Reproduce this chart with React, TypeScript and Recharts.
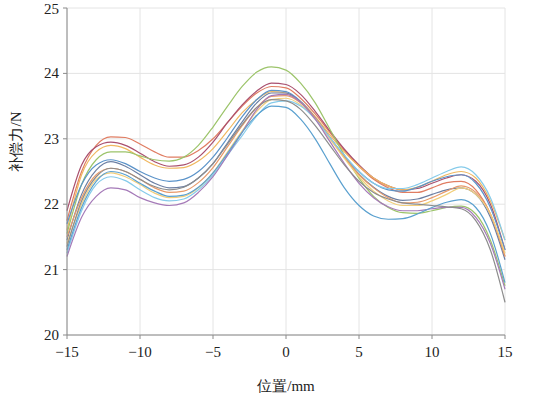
import { LineChart, Line, XAxis, YAxis, CartesianGrid } from "recharts";

const X_POS = [-15, -14, -13, -12, -11, -10, -9, -8, -7, -6, -5, -4, -3, -2, -1, 0, 1, 2, 3, 4, 5, 6, 7, 8, 9, 10, 11, 12, 13, 14, 15];

const X_TICKS = [-15, -10, -5, 0, 5, 10, 15];
const Y_TICKS = [20, 21, 22, 23, 24, 25];

const s1 = [21.75, 22.5, 22.9, 23.03, 23.02, 22.92, 22.8, 22.72, 22.72, 22.82, 23.0, 23.25, 23.5, 23.7, 23.8, 23.78, 23.62, 23.38, 23.1, 22.82, 22.58, 22.38, 22.25, 22.18, 22.18, 22.25, 22.33, 22.35, 22.22, 21.85, 21.2];
const s2 = [21.9, 22.6, 22.88, 22.95, 22.9, 22.78, 22.65, 22.58, 22.6, 22.72, 22.95, 23.25, 23.52, 23.73, 23.85, 23.83, 23.68, 23.42, 23.12, 22.84, 22.6, 22.4, 22.28, 22.22, 22.24, 22.32, 22.4, 22.45, 22.35, 22.0, 21.3];
const s3 = [21.6, 22.45, 22.8, 22.9, 22.85, 22.72, 22.6, 22.55, 22.56, 22.66, 22.85, 23.12, 23.4, 23.6, 23.72, 23.7, 23.57, 23.34, 23.06, 22.8, 22.58, 22.4, 22.28, 22.22, 22.26, 22.35, 22.45, 22.5, 22.4, 22.05, 21.45];
const s4 = [21.55, 22.3, 22.68, 22.8, 22.8, 22.74, 22.68, 22.66, 22.72, 22.9, 23.18, 23.5, 23.8, 24.02, 24.1, 24.05, 23.85, 23.55, 23.15, 22.75, 22.4, 22.12, 21.95, 21.87, 21.86, 21.9, 21.95, 21.97, 21.85, 21.45, 20.75];
const s5 = [21.7, 22.3, 22.6, 22.68, 22.62, 22.5, 22.4, 22.35, 22.38, 22.5, 22.72, 23.02, 23.34, 23.6, 23.74, 23.72, 23.57, 23.32, 23.02, 22.74, 22.5, 22.32, 22.22, 22.2, 22.26, 22.35, 22.42, 22.45, 22.32, 21.95, 21.3];
const s6 = [21.45, 22.15, 22.52, 22.65, 22.58, 22.45, 22.32, 22.25, 22.27, 22.4, 22.62, 22.94, 23.26, 23.55, 23.7, 23.7, 23.56, 23.32, 23.02, 22.72, 22.46, 22.26, 22.12, 22.06, 22.08, 22.15, 22.22, 22.25, 22.15, 21.8, 21.15];
const s7 = [21.5, 22.1, 22.45, 22.55, 22.5, 22.38, 22.25, 22.18, 22.2, 22.33, 22.56, 22.88, 23.2, 23.48, 23.65, 23.66, 23.55, 23.32, 23.02, 22.72, 22.45, 22.25, 22.1, 22.02, 22.03, 22.1, 22.2, 22.28, 22.18, 21.85, 21.2];
const s8 = [21.4, 22.0, 22.38, 22.48, 22.42, 22.3, 22.17, 22.1, 22.12, 22.25, 22.48, 22.8, 23.12, 23.42, 23.6, 23.62, 23.52, 23.3, 23.0, 22.7, 22.42, 22.2, 22.05, 21.98, 21.98, 22.05, 22.15, 22.25, 22.15, 21.85, 21.25];
const s9 = [21.25, 21.9, 22.3, 22.42, 22.36, 22.22, 22.1, 22.05, 22.08, 22.22, 22.45, 22.75, 23.05, 23.35, 23.55, 23.58, 23.5, 23.3, 23.02, 22.75, 22.5, 22.32, 22.24, 22.24, 22.3, 22.4, 22.5, 22.57, 22.45, 22.1, 21.45];
const s10 = [21.2, 21.8, 22.12, 22.25, 22.22, 22.1, 22.02, 21.98, 22.02, 22.18, 22.42, 22.75, 23.1, 23.45, 23.66, 23.68, 23.56, 23.3, 22.96, 22.62, 22.32, 22.1, 21.96, 21.9, 21.9, 21.93, 21.95, 21.95, 21.8, 21.4, 20.7];
const s11 = [21.3, 21.95, 22.35, 22.5, 22.45, 22.32, 22.2, 22.12, 22.14, 22.26, 22.48, 22.78, 23.1, 23.36, 23.5, 23.48, 23.3, 23.0, 22.62, 22.25, 21.98, 21.82, 21.77, 21.78, 21.85, 21.95, 22.03, 22.07, 21.95, 21.55, 20.8];
const s12 = [21.35, 22.05, 22.42, 22.55, 22.5, 22.38, 22.27, 22.22, 22.26, 22.4, 22.62, 22.92, 23.22, 23.48, 23.6, 23.58, 23.45, 23.2, 22.9, 22.6, 22.35, 22.18, 22.08, 22.02, 22.0, 21.98, 21.96, 21.93, 21.75, 21.3, 20.5];

const SERIES = [s1, s2, s3, s4, s5, s6, s7, s8, s9, s10, s11, s12];
const COLORS = ["#e07d62", "#a9506f", "#f0b860", "#9cc46a", "#5b93c9", "#6c7fa3", "#e89a6a", "#f2cf7a", "#86cbea", "#a57ab8", "#5aa0cf", "#8c8c8c"];

const data = X_POS.map((x, i) => {
  const row: Record<string, number> = { x };
  SERIES.forEach((s, k) => {
    row[`s${k}`] = s[i];
  });
  return row;
});

const fmt = (v: number) => (v < 0 ? `\u2212${Math.abs(v)}` : `${v}`);
const FONT = "'Liberation Serif', 'DejaVu Serif', serif";

const XTick = (props: any) => {
  const { x, y, payload } = props;
  return (
    <text x={x} y={y + 16} textAnchor="middle" fill="#222" style={{ fontFamily: FONT, fontSize: 15 }}>
      {fmt(payload.value)}
    </text>
  );
};

const YTick = (props: any) => {
  const { x, y, payload } = props;
  return (
    <text x={x - 2} y={y + 5} textAnchor="end" fill="#222" style={{ fontFamily: FONT, fontSize: 15 }}>
      {payload.value}
    </text>
  );
};

export default function App() {
  return (
    <div style={{ position: "fixed", left: 0, top: 0, width: 535, height: 401, background: "#fff", fontFamily: FONT }}>
      <LineChart width={535} height={401} data={data} margin={{ top: 8, right: 30, left: 0, bottom: 0 }}>
        <CartesianGrid stroke="#e4e4e4" />
        <XAxis
          dataKey="x"
          type="number"
          domain={[-15, 15]}
          ticks={X_TICKS}
          height={66}
          stroke="#8a8a8a"
          tickSize={4}
          tick={<XTick />}
          label={{ value: "位置/mm", position: "insideBottom", offset: 10, fill: "#222", fontSize: 15, style: { fontFamily: FONT } }}
        />
        <XAxis xAxisId="top" dataKey="x" type="number" domain={[-15, 15]} orientation="top" height={0} tick={false} stroke="#8a8a8a" />
        <YAxis
          type="number"
          domain={[20, 25]}
          ticks={Y_TICKS}
          width={67}
          stroke="#8a8a8a"
          tickSize={4}
          tick={<YTick />}
          label={{ value: "补偿力/N", angle: -90, position: "insideLeft", offset: 16, fill: "#222", fontSize: 15, style: { fontFamily: FONT } }}
        />
        <YAxis yAxisId="r" orientation="right" domain={[20, 25]} width={0} tick={false} stroke="#8a8a8a" />
        {SERIES.map((_, k) => (
          <Line
            key={k}
            dataKey={`s${k}`}
            type="monotone"
            stroke={COLORS[k]}
            strokeWidth={1.2}
            dot={false}
            isAnimationActive={false}
          />
        ))}
      </LineChart>
    </div>
  );
}
